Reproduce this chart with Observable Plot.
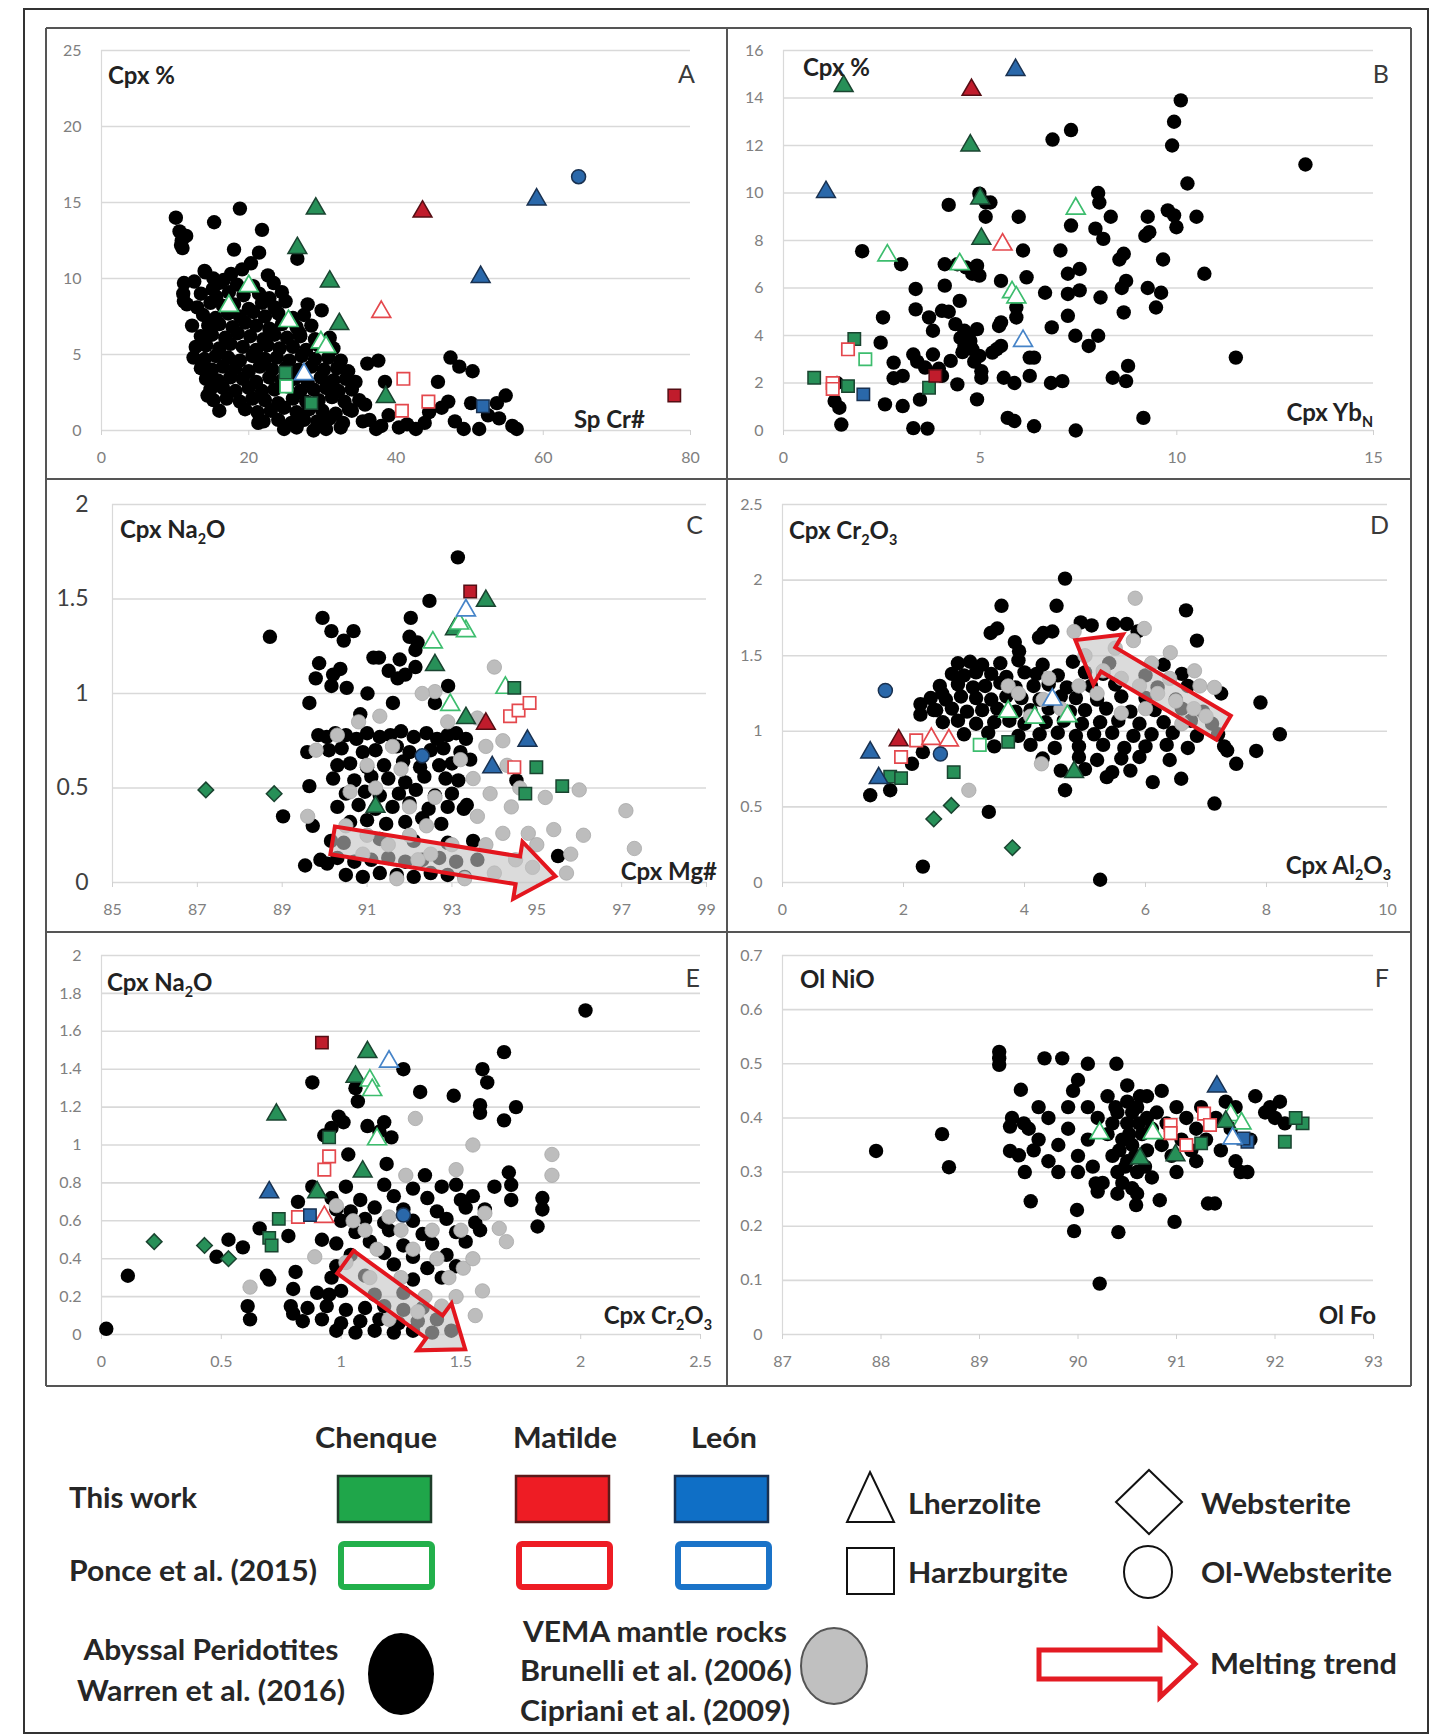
<!DOCTYPE html>
<html><head><meta charset="utf-8">
<script src="https://cdn.jsdelivr.net/npm/d3@7"></script>
<script src="https://cdn.jsdelivr.net/npm/@observablehq/plot@0.6"></script>
<style>
body{margin:0;background:#fff;}
#root{position:relative;width:1448px;height:1736px;background:#fff;overflow:hidden;}
.panel{position:absolute;}
#overlay{position:absolute;left:0;top:0;}
</style></head><body><div id="root"></div>
<script>
// ---------------- DATA ----------------
// samples: [x, y, locality, study, lithology]
// locality: Ch = Chenque, Ma = Matilde, Le = León ; study: T = This work, P = Ponce et al. (2015)
// lithology: L = Lherzolite, H = Harzburgite, W = Websterite, O = Ol-Websterite

// Panel A : Sp Cr# vs Cpx %
const A_abyssal = [[10.1,14.0],[10.6,13.1],[10.9,12.5],[11.0,12.0],[11.5,12.8],[10.8,12.2],[15.3,13.7],[18.8,14.6],[21.8,13.2],[18.0,11.9],[21.4,11.7],[20.3,11.0],[26.6,11.3],[29.9,7.9],[14.1,10.4],[15.2,10.0],[15.9,9.7],[11.2,9.7],[11.1,9.0],[11.2,8.5],[12.3,6.9],[14.4,2.3],[21.3,0.5],[26.9,6.4],[36.1,4.4],[37.6,4.6],[38.5,3.2],[37.3,0.1],[36.4,0.7],[47.4,4.8],[48.6,4.2],[50.4,3.9],[45.7,3.2],[51.3,0.1],[55.8,0.3],[56.4,0.1],[54.9,2.3],[53.7,1.8],[54.0,0.8],[47.1,1.9],[48.0,0.6],[49.2,0.1],[41.5,0.4],[42.7,0.1],[43.9,0.5],[34.0,1.3],[35.8,1.7],[44.5,1.2],[46.2,1.5],[50.2,1.8],[52.5,1.0],[40.4,0.2],[39.0,1.0],[38.0,0.3],
[14.0,10.5],[17.6,10.3],[19.1,10.6],[22.6,10.2],[12.6,9.8],[15.1,9.3],[16.6,9.9],[18.4,9.6],[20.6,9.5],[23.4,9.7],[13.5,9.0],[15.6,8.8],[17.3,9.1],[19.3,8.9],[21.4,9.0],[22.8,8.7],[24.5,9.1],[11.6,8.3],[13.0,8.1],[14.8,8.4],[16.5,8.2],[18.0,8.3],[20.0,8.0],[21.8,8.4],[23.5,8.1],[25.0,8.5],[28.0,8.3],[13.8,7.6],[15.5,7.4],[17.2,7.7],[18.8,7.5],[20.6,7.8],[22.2,7.5],[24.0,7.7],[26.0,7.4],[27.5,7.6],[14.5,6.9],[16.0,7.0],[17.8,6.8],[19.5,7.1],[21.0,6.9],[22.8,6.7],[24.5,7.0],[26.5,6.8],[28.5,6.9],[13.5,6.2],[15.0,6.3],[16.8,6.1],[18.5,6.4],[20.2,6.2],[22.0,6.0],[23.5,6.3],[25.2,6.1],[27.0,6.2],[29.0,6.0],[31.0,6.1],[12.8,5.5],[14.2,5.6],[16.0,5.4],[17.5,5.7],[19.2,5.5],[21.0,5.3],[22.5,5.6],[24.2,5.4],[26.0,5.5],[27.8,5.3],[29.5,5.6],[31.5,5.4],[12.5,4.8],[14.0,4.7],[15.5,4.9],[17.2,4.8],[18.8,4.6],[20.5,4.9],[22.2,4.7],[23.8,4.8],[25.5,4.6],[27.2,4.9],[29.0,4.7],[30.8,4.8],[32.5,4.6],[13.5,4.1],[15.0,4.0],[16.5,4.2],[18.2,4.1],[20.0,3.9],[21.5,4.2],[23.2,4.0],[25.0,4.1],[26.8,4.0],[28.5,4.2],[30.2,4.0],[32.0,4.1],[33.5,3.9],[14.2,3.4],[15.8,3.3],[17.5,3.5],[19.2,3.4],[21.0,3.2],[22.8,3.5],[24.5,3.3],[26.2,3.4],[28.0,3.2],[29.8,3.5],[31.5,3.3],[33.2,3.4],[34.5,3.2],[14.8,2.7],[16.5,2.8],[18.2,2.6],[20.0,2.8],[21.8,2.6],[23.5,2.7],[25.2,2.9],[27.0,2.6],[28.8,2.7],[30.5,2.8],[32.2,2.6],[34.0,2.7],[15.2,2.0],[17.0,2.1],[18.8,1.9],[20.5,2.1],[22.2,2.0],[24.0,1.8],[26.0,2.1],[27.8,1.9],[29.5,2.0],[31.3,2.2],[33.0,1.9],[35.0,2.0],[16.0,1.3],[19.5,1.4],[21.2,1.2],[23.0,1.3],[24.8,1.5],[26.5,1.2],[28.2,1.4],[30.0,1.3],[31.8,1.1],[33.6,1.4],[22.0,0.6],[24.0,0.7],[25.8,0.5],[27.5,0.7],[29.3,0.6],[31.0,0.8],[32.8,0.5],[35.5,0.6],[24.8,0.1],[26.5,0.2],[28.8,0.0],[30.5,0.1],[32.5,0.2]];
const A_samples = [[29.1,14.6,"Ch","T","L"],[26.6,12.0,"Ch","T","L"],[31.0,9.8,"Ch","T","L"],[32.3,7.0,"Ch","T","L"],[38.6,2.2,"Ch","T","L"],[25.0,3.8,"Ch","T","H"],[28.5,1.8,"Ch","T","H"],[20.0,9.5,"Ch","P","L"],[17.3,8.2,"Ch","P","L"],[25.4,7.2,"Ch","P","L"],[29.8,5.8,"Ch","P","L"],[30.5,5.5,"Ch","P","L"],[25.1,2.9,"Ch","P","H"],[43.6,14.4,"Ma","T","L"],[77.8,2.3,"Ma","T","H"],[38.0,7.8,"Ma","P","L"],[41.0,3.4,"Ma","P","H"],[44.4,1.9,"Ma","P","H"],[40.8,1.3,"Ma","P","H"],[59.1,15.2,"Le","T","L"],[51.5,10.1,"Le","T","L"],[64.8,16.7,"Le","T","O"],[51.8,1.6,"Le","T","H"],[27.5,3.7,"Le","P","L"]];

// Panel B : Cpx YbN vs Cpx %
const B_abyssal = [[2.0,7.55],[2.53,4.76],[2.47,3.7],[2.99,7.0],[3.36,5.96],[3.36,5.1],[2.8,2.86],[2.8,2.2],[3.03,2.3],[2.58,1.1],[3.03,1.03],[1.3,1.24],[1.42,0.96],[1.47,0.25],[1.36,2.0],[3.3,0.1],[3.66,0.08],[3.47,1.3],[3.6,2.65],[3.3,3.2],[3.7,4.76],[3.8,4.2],[4.03,5.04],[4.2,5.0],[4.1,6.1],[4.1,7.0],[4.2,9.5],[4.42,7.0],[4.48,5.46],[3.8,3.2],[4.03,2.3],[4.25,2.93],[4.42,1.94],[4.37,4.48],[4.6,4.2],[4.75,3.77],[4.6,3.56],[4.8,3.42],[4.92,4.27],[4.98,3.14],[5.03,2.5],[5.03,2.22],[4.64,6.87],[4.92,6.94],[4.98,6.52],[4.8,6.6],[4.98,9.97],[5.14,9.6],[5.26,9.6],[5.14,9.0],[4.92,1.31],[5.31,3.28],[5.42,3.42],[5.48,4.4],[5.53,4.55],[5.53,3.56],[5.6,2.22],[5.87,2.0],[5.7,0.53],[5.87,0.4],[6.37,0.18],[5.53,6.3],[5.92,5.18],[5.92,4.76],[5.98,9.0],[6.09,7.58],[6.18,6.45],[6.26,3.07],[6.37,3.07],[6.26,2.3],[6.65,5.8],[6.82,4.34],[6.8,2.0],[7.09,2.08],[6.84,12.25],[7.31,12.65],[7.04,7.58],[7.31,8.63],[7.23,6.6],[7.53,6.8],[7.23,5.75],[7.53,5.9],[7.23,4.83],[7.42,3.99],[7.43,0.0],[7.76,3.56],[8.0,3.99],[8.06,5.6],[8.0,10.0],[8.03,9.6],[8.32,9.0],[7.93,8.5],[8.13,8.07],[8.37,2.22],[8.65,4.97],[8.71,2.08],[8.76,2.72],[8.54,7.2],[8.65,7.44],[8.71,6.3],[8.6,6.0],[9.2,8.2],[9.3,8.35],[9.26,9.0],[9.26,6.0],[9.6,5.8],[9.65,7.2],[9.47,5.18],[9.15,0.53],[9.77,9.27],[9.93,9.06],[9.99,8.56],[9.88,12.0],[9.93,13.0],[10.1,13.9],[10.27,10.4],[10.5,9.0],[10.7,6.6],[11.5,3.07],[13.27,11.2],[4.5,3.9],[4.7,4.0],[4.55,3.3],[4.85,2.9],[3.95,2.6],[3.4,2.9]];
const B_samples = [[1.53,14.5,"Ch","T","L"],[4.75,12.0,"Ch","T","L"],[5.0,9.77,"Ch","T","L"],[5.03,8.07,"Ch","T","L"],[0.78,2.22,"Ch","T","H"],[1.8,3.85,"Ch","T","H"],[1.64,1.87,"Ch","T","H"],[3.7,1.8,"Ch","T","H"],[2.64,7.37,"Ch","P","L"],[7.43,9.34,"Ch","P","L"],[5.81,5.82,"Ch","P","L"],[5.92,5.6,"Ch","P","L"],[4.48,7.0,"Ch","P","L"],[2.08,3.0,"Ch","P","H"],[4.78,14.34,"Ma","T","L"],[3.86,2.3,"Ma","T","H"],[5.57,7.83,"Ma","P","L"],[1.64,3.42,"Ma","P","H"],[1.25,2.0,"Ma","P","H"],[1.25,1.75,"Ma","P","H"],[5.9,15.18,"Le","T","L"],[1.08,10.04,"Le","T","L"],[2.03,1.52,"Le","T","H"],[6.09,3.77,"Le","P","L"]];

// Panel C : Cpx Mg# vs Cpx Na2O
const C_abyssal = [[93.14,1.72],[92.47,1.49],[88.71,1.30],[92.03,1.40],[89.95,1.40],[90.16,1.33],[90.45,1.28],[90.68,1.33],[92.19,1.27],[92.14,1.23],[91.15,1.19],[91.28,1.19],[91.77,1.18],[91.51,1.12],[91.72,1.08],[89.87,1.16],[89.79,1.08],[90.37,1.13],[90.16,1.04],[90.52,1.03],[92.14,1.14],[91.01,1.0],[91.61,0.95],[92.91,1.04],[89.64,0.95],[90.84,0.89],[89.59,0.69],[89.64,0.51],[89.02,0.35],[89.72,0.30],[89.54,0.09],[90.06,0.10],[93.28,0.39],[93.43,0.65],[94.52,0.54],[95.5,0.14],[92.0,1.3],[91.9,1.1],[90.2,1.1],[92.6,0.95],
[89.85,0.78],[90.05,0.77],[90.25,0.79],[90.5,0.78],[90.75,0.76],[91.0,0.79],[91.3,0.77],[91.55,0.78],[91.8,0.80],[92.1,0.77],[92.4,0.79],[92.65,0.76],[92.9,0.78],[93.1,0.79],[93.33,0.76],
[90.1,0.70],[90.4,0.71],[90.9,0.69],[91.2,0.70],[91.7,0.72],[92.0,0.69],[92.5,0.70],[92.8,0.71],[93.2,0.69],
[90.3,0.62],[90.6,0.63],[91.0,0.61],[91.4,0.62],[91.85,0.64],[92.25,0.61],[92.7,0.62],[93.0,0.63],
[90.2,0.55],[90.7,0.54],[91.1,0.56],[91.5,0.55],[91.9,0.53],[92.35,0.56],[92.85,0.55],[93.15,0.54],
[90.5,0.47],[90.95,0.48],[91.3,0.46],[91.75,0.47],[92.15,0.49],[92.6,0.46],[93.0,0.47],
[90.3,0.40],[90.8,0.41],[91.2,0.39],[91.6,0.40],[92.0,0.42],[92.45,0.39],[92.9,0.40],[93.35,0.41],
[90.6,0.32],[91.0,0.33],[91.45,0.31],[91.9,0.32],[92.3,0.34],[92.75,0.31],
[90.15,0.22],[90.45,0.21],[91.3,0.23],[92.1,0.22],[92.9,0.21],[93.5,0.22],
[89.9,0.12],[90.3,0.13],[90.7,0.11],[91.1,0.12],[91.5,0.13],[91.9,0.11],[92.3,0.12],[92.7,0.13],[93.1,0.11],[93.6,0.12],
[90.5,0.04],[90.9,0.03],[91.3,0.05],[91.7,0.04],[92.1,0.03],[92.5,0.05],[92.9,0.04],[93.3,0.03]];
const C_vema = [[94.0,1.14],[92.6,1.01],[92.3,1.0],[93.6,0.87],[96.0,0.49],[97.1,0.38],[97.3,0.18],[95.8,0.15],[95.7,0.05],[95.4,0.28],[94.8,0.26],[94.2,0.26],[93.9,0.47],[93.8,0.72],[94.2,0.75],[94.6,0.5],[94.5,0.12],[95.0,0.2],[94.0,0.05],[93.6,0.35],[93.0,0.2],[92.5,0.15],[92.0,0.25],[91.5,0.2],[91.0,0.25],[90.5,0.3],[90.8,0.85],[91.3,0.88],[91.8,0.6],[91.0,0.62],[90.6,0.48],[92.0,0.4],[92.6,0.45],[93.2,0.65],[89.6,0.35],[89.8,0.7],[92.2,0.12],[93.3,0.02],[91.7,0.02],[95.2,0.45],[94.4,0.4],[96.1,0.25],[93.5,0.55],[92.9,0.85],[90.3,0.78],[94.3,0.62],[91.2,0.5],[92.4,0.3],[93.8,0.2],[94.9,0.08],[91.6,0.72],[90.9,0.15]];
const C_samples = [[93.8,1.49,"Ch","T","L"],[93.07,1.34,"Ch","T","L"],[92.6,1.15,"Ch","T","L"],[93.33,0.87,"Ch","T","L"],[91.2,0.4,"Ch","T","L"],[92.55,1.27,"Ch","P","L"],[93.33,1.33,"Ch","P","L"],[93.17,1.37,"Ch","P","L"],[92.96,0.94,"Ch","P","L"],[94.26,1.03,"Ch","P","L"],[94.47,1.03,"Ch","T","H"],[94.99,0.61,"Ch","T","H"],[94.73,0.47,"Ch","T","H"],[95.6,0.51,"Ch","T","H"],[87.2,0.49,"Ch","T","W"],[88.81,0.47,"Ch","T","W"],[93.43,1.54,"Ma","T","H"],[93.8,0.84,"Ma","T","L"],[94.37,0.88,"Ma","P","H"],[94.57,0.91,"Ma","P","H"],[94.83,0.95,"Ma","P","H"],[94.47,0.61,"Ma","P","H"],[94.78,0.75,"Le","T","L"],[93.95,0.61,"Le","T","L"],[92.3,0.67,"Le","T","O"],[93.33,1.44,"Le","P","L"]];
const C_trend = [90.2, 0.22, 95.45, 0.03];

// Panel D : Cpx Al2O3 vs Cpx Cr2O3
const D_abyssal = [[4.67,2.01],[3.62,1.83],[4.53,1.83],[3.44,1.65],[3.55,1.68],[3.84,1.59],[3.91,1.53],[4.24,1.62],[4.31,1.65],[4.46,1.66],[4.93,1.72],[5.11,1.7],[5.47,1.71],[5.69,1.71],[5.87,1.66],[6.67,1.8],[6.85,1.6],[7.9,1.19],[8.22,0.98],[7.83,0.87],[7.5,0.785],[7.35,0.873],[7.14,0.522],[6.59,0.686],[6.12,0.664],[5.36,0.697],[4.67,0.61],[5.25,0.018],[2.32,0.105],[3.41,0.467],[1.45,0.577],[1.78,0.61],[2.14,0.785],[2.28,1.18],[2.28,1.11],[2.32,0.862],[2.64,1.25],[2.54,1.14],[7.25,1.25],
[2.9,1.45],[3.1,1.46],[3.3,1.44],[3.6,1.45],[3.9,1.47],[4.3,1.44],[4.8,1.46],[5.4,1.45],[6.3,1.44],
[2.8,1.38],[3.0,1.37],[3.2,1.39],[3.45,1.38],[3.7,1.36],[4.0,1.39],[4.2,1.38],[4.55,1.37],[5.0,1.39],[5.3,1.38],[6.0,1.37],[6.6,1.38],
[2.6,1.30],[2.9,1.31],[3.15,1.29],[3.35,1.30],[3.6,1.32],[3.85,1.29],[4.15,1.30],[4.4,1.31],[4.7,1.29],[5.1,1.30],[5.5,1.31],[6.2,1.29],[6.7,1.30],
[2.45,1.22],[2.7,1.21],[2.95,1.23],[3.2,1.22],[3.45,1.21],[3.7,1.23],[3.95,1.22],[4.25,1.21],[4.6,1.23],[4.85,1.22],[5.2,1.21],[5.6,1.23],[6.0,1.22],[6.5,1.21],
[2.5,1.14],[2.8,1.15],[3.05,1.13],[3.3,1.14],[3.55,1.15],[3.85,1.13],[4.1,1.14],[4.4,1.15],[4.75,1.13],[5.0,1.14],[5.35,1.15],[5.75,1.13],[6.15,1.14],[6.6,1.15],[6.95,1.13],
[2.65,1.06],[2.9,1.07],[3.2,1.05],[3.5,1.06],[3.75,1.07],[4.0,1.05],[4.35,1.06],[4.65,1.07],[4.95,1.05],[5.25,1.06],[5.55,1.07],[5.9,1.05],[6.3,1.06],[6.75,1.07],[7.1,1.05],
[3.0,0.98],[3.4,0.99],[3.9,0.97],[4.25,0.98],[4.55,0.99],[4.85,0.97],[5.15,0.98],[5.45,0.99],[5.8,0.97],[6.1,0.98],[6.45,0.99],[6.85,0.97],[7.2,0.98],
[3.5,0.90],[4.1,0.91],[4.5,0.89],[4.9,0.90],[5.3,0.91],[5.65,0.89],[6.0,0.90],[6.35,0.91],[6.7,0.89],[7.3,0.90],
[4.3,0.82],[4.9,0.83],[5.2,0.81],[5.6,0.82],[5.9,0.83],[6.4,0.81],[4.6,0.74],[5.0,0.75],[5.45,0.73],[5.75,0.74]];
const D_vema = [[5.83,1.88],[4.82,1.66],[5.98,1.68],[6.41,1.52],[6.81,1.4],[7.14,1.29],[4.28,0.785],[3.08,0.61],[3.73,1.3],[4.31,1.21],[5.0,1.5],[5.3,1.4],[5.6,1.35],[5.9,1.3],[6.2,1.25],[6.5,1.2],[6.8,1.15],[7.0,1.1],[5.5,1.55],[5.8,1.6],[6.1,1.45],[6.4,1.35],[5.2,1.25],[4.9,1.3],[6.0,1.15],[5.6,1.12],[4.6,1.15],[6.6,1.05],[6.9,1.3],[4.4,1.35],[3.9,1.25],[4.1,1.1]];
const D_samples = [[4.82,0.73,"Ch","T","L"],[1.78,0.70,"Ch","T","H"],[1.96,0.69,"Ch","T","H"],[2.83,0.73,"Ch","T","H"],[3.73,0.93,"Ch","T","H"],[2.5,0.42,"Ch","T","W"],[2.79,0.51,"Ch","T","W"],[3.8,0.23,"Ch","T","W"],[3.26,0.91,"Ch","P","H"],[3.73,1.13,"Ch","P","L"],[4.17,1.09,"Ch","P","L"],[4.71,1.10,"Ch","P","L"],[1.92,0.94,"Ma","T","L"],[2.21,0.94,"Ma","P","H"],[2.46,0.95,"Ma","P","L"],[2.75,0.94,"Ma","P","L"],[1.96,0.83,"Ma","P","H"],[1.45,0.86,"Le","T","L"],[1.59,0.69,"Le","T","L"],[1.7,1.27,"Le","T","O"],[2.61,0.85,"Le","T","O"],[4.46,1.21,"Le","P","L"]];
const D_trend = [7.3, 1.02, 4.85, 1.6];

// Panel E : Cpx Cr2O3 vs Cpx Na2O
const E_abyssal = [[2.02,1.71],[1.68,1.49],[1.59,1.40],[1.61,1.33],[1.26,1.40],[1.33,1.28],[1.47,1.26],[1.58,1.21],[1.58,1.17],[1.73,1.2],[1.68,1.13],[0.88,1.33],[1.06,1.3],[1.07,1.23],[0.99,1.15],[1.01,1.12],[1.11,1.1],[1.18,1.12],[1.16,1.07],[1.21,1.04],[0.96,1.09],[0.93,1.05],[1.03,0.95],[1.19,0.9],[1.35,0.84],[1.7,0.855],[1.71,0.79],[1.64,0.78],[1.71,0.71],[1.84,0.72],[1.84,0.66],[1.82,0.57],[0.02,0.03],[0.11,0.31],[0.48,0.41],[0.53,0.5],[0.59,0.46],[0.66,0.56],[0.69,0.31],[0.70,0.29],[0.61,0.15],[0.62,0.08],[0.78,0.52],[0.81,0.33],[0.80,0.24],[0.79,0.15],[0.80,0.11],[0.82,0.70],[0.88,0.78],[0.92,0.50],[0.95,0.21],
[1.02,0.78],[1.18,0.79],[1.3,0.77],[1.42,0.78],[1.48,0.79],[0.96,0.72],[1.08,0.71],[1.22,0.73],[1.36,0.72],[1.5,0.71],[1.55,0.73],[0.98,0.66],[1.04,0.65],[1.14,0.67],[1.26,0.66],[1.4,0.65],[1.52,0.67],[1.6,0.66],[1.0,0.60],[1.1,0.61],[1.18,0.59],[1.3,0.60],[1.44,0.61],[1.56,0.59],[1.06,0.54],[1.2,0.55],[1.34,0.53],[1.48,0.54],[1.58,0.55],[0.98,0.48],[1.12,0.49],[1.26,0.47],[1.38,0.48],[1.52,0.49],[1.04,0.42],[1.18,0.43],[1.3,0.41],[1.44,0.42],[0.98,0.36],[1.22,0.37],[1.36,0.35],[1.48,0.36],[0.96,0.30],[1.1,0.31],[1.3,0.29],[1.42,0.30],[0.9,0.22],[1.0,0.23],[1.14,0.21],[1.26,0.22],[0.86,0.14],[0.94,0.15],[1.02,0.13],[1.1,0.14],[1.18,0.15],[1.26,0.13],[1.34,0.14],[0.84,0.07],[0.92,0.08],[1.0,0.06],[1.08,0.07],[1.16,0.08],[1.24,0.06],[1.32,0.07],[1.4,0.08],[0.98,0.02],[1.06,0.01],[1.14,0.02],[1.22,0.01],[1.3,0.02],[1.38,0.01],[1.46,0.02]];
const E_vema = [[1.31,1.14],[1.55,1.0],[1.88,0.95],[1.88,0.84],[1.48,0.87],[1.27,0.84],[1.6,0.64],[1.66,0.56],[1.69,0.49],[1.59,0.23],[1.56,0.1],[0.62,0.25],[0.89,0.41],[1.51,0.35],[1.1,0.55],[1.2,0.62],[1.3,0.45],[1.4,0.4],[1.45,0.3],[1.35,0.2],[1.25,0.3],[1.15,0.45],[1.05,0.6],[1.5,0.55],[1.38,0.55],[1.25,0.55],[1.02,0.38],[1.2,0.08],[1.32,0.12],[1.42,0.15],[1.48,0.2],[0.98,0.68],[1.55,0.4],[1.12,0.3]];
const E_samples = [[0.92,1.54,"Ma","T","H"],[1.11,1.49,"Ch","T","L"],[1.06,1.36,"Ch","T","L"],[0.73,1.16,"Ch","T","L"],[1.09,0.86,"Ch","T","L"],[0.9,0.75,"Ch","T","L"],[1.12,1.34,"Ch","P","L"],[1.13,1.29,"Ch","P","L"],[1.15,1.03,"Ch","P","L"],[0.95,1.04,"Ch","T","H"],[0.74,0.61,"Ch","T","H"],[0.7,0.51,"Ch","T","H"],[0.71,0.47,"Ch","T","H"],[0.22,0.49,"Ch","T","W"],[0.43,0.47,"Ch","T","W"],[0.53,0.4,"Ch","T","W"],[0.95,0.94,"Ma","P","H"],[0.93,0.87,"Ma","P","H"],[0.82,0.62,"Ma","P","H"],[0.93,0.62,"Ma","P","L"],[0.7,0.75,"Le","T","L"],[0.87,0.63,"Le","T","H"],[1.26,0.63,"Le","T","O"],[1.2,1.44,"Le","P","L"]];
const E_trend = [1.02, 0.38, 1.52, -0.08];

// Panel F : Ol Fo vs Ol NiO
const F_abyssal = [[87.95,0.339],[88.62,0.37],[88.69,0.309],[89.2,0.522],[89.2,0.51],[89.2,0.498],[89.66,0.51],[89.84,0.51],[90.1,0.5],[90.39,0.5],[89.42,0.452],[90.0,0.47],[90.5,0.46],[90.63,0.44],[89.33,0.4],[89.31,0.384],[89.31,0.339],[89.4,0.331],[89.46,0.3],[89.52,0.246],[89.96,0.191],[89.99,0.23],[90.22,0.094],[90.41,0.189],[90.2,0.264],[90.18,0.279],[90.98,0.208],[90.59,0.239],[90.83,0.248],[91.32,0.242],[91.39,0.242],
[89.5,0.38],[89.6,0.36],[89.7,0.40],[89.8,0.35],[89.9,0.38],[89.7,0.32],[89.8,0.30],[90.0,0.33],[90.1,0.36],[90.2,0.40],[90.3,0.37],[90.35,0.33],[90.4,0.30],[90.4,0.41],[90.45,0.36],[90.5,0.32],[90.5,0.39],[90.55,0.35],[90.6,0.42],[90.6,0.30],[90.65,0.37],[90.7,0.34],[90.7,0.40],[90.75,0.38],[90.8,0.41],[90.85,0.35],[90.9,0.39],[90.95,0.33],[91.0,0.42],[91.05,0.36],[91.1,0.40],[91.15,0.34],[91.2,0.38],[91.25,0.42],[91.3,0.36],[91.4,0.40],[91.45,0.34],[91.5,0.43],[91.55,0.38],[91.6,0.32],[91.65,0.30],[91.72,0.30],[91.75,0.36],[91.6,0.42],[91.8,0.44],[91.9,0.41],[92.0,0.40],[92.05,0.43],[92.1,0.39],[91.95,0.42],[90.25,0.28],[90.45,0.28],[90.55,0.27],[90.3,0.44],[90.5,0.43],[89.9,0.42],[89.6,0.42],[90.0,0.30],[90.15,0.31],[89.55,0.34],[89.45,0.39],[90.75,0.29],[91.0,0.30],[91.2,0.32],[90.85,0.45],[90.7,0.44],[89.95,0.45],[90.1,0.42],[90.6,0.26],[90.4,0.26],[90.35,0.39],[90.42,0.34],[90.48,0.31],[90.52,0.37],[90.58,0.33],[90.62,0.39],[90.68,0.31],[90.38,0.42],[90.55,0.41]];
const F_samples = [[90.22,0.372,"Ch","P","L"],[90.76,0.372,"Ch","P","L"],[91.55,0.405,"Ch","P","L"],[91.66,0.39,"Ch","P","L"],[90.99,0.331,"Ch","T","L"],[90.63,0.325,"Ch","T","L"],[91.5,0.393,"Ch","T","L"],[91.25,0.353,"Ch","T","H"],[92.1,0.356,"Ch","T","H"],[92.28,0.39,"Ch","T","H"],[92.21,0.40,"Ch","T","H"],[90.94,0.387,"Ma","P","H"],[91.1,0.35,"Ma","P","H"],[91.28,0.408,"Ma","P","H"],[91.34,0.387,"Ma","P","H"],[90.94,0.372,"Ma","P","H"],[91.41,0.458,"Le","T","L"],[91.72,0.356,"Le","T","H"],[91.68,0.362,"Le","T","H"],[91.57,0.362,"Le","P","L"]];

// Axis ticks
const A_xTicks=[0,20,40,60,80], A_yTicks=[0,5,10,15,20,25];
const B_xTicks=[0,5,10,15], B_yTicks=[0,2,4,6,8,10,12,14,16];
const C_xTicks=[85,87,89,91,93,95,97,99], C_yTicks=[0,0.5,1,1.5,2];
const D_xTicks=[0,2,4,6,8,10], D_yTicks=[0,0.5,1,1.5,2,2.5];
const E_xTicks=[0,0.5,1,1.5,2,2.5], E_yTicks=[0,0.2,0.4,0.6,0.8,1,1.2,1.4,1.6,1.8,2];
const F_xTicks=[87,88,89,90,91,92,93], F_yTicks=[0,0.1,0.2,0.3,0.4,0.5,0.6,0.7];

// ---------------- STYLES ----------------
const FONT = "Lato, 'Open Sans', sans-serif";
const locStyle = {
  Ch:{fill:"#279058", stroke:"#1a4430", open:"#3dbd6e"},
  Ma:{fill:"#c01c2c", stroke:"#550e14", open:"#e4484d"},
  Le:{fill:"#2a68aa", stroke:"#193150", open:"#4684c8"}
};
const lithSymbol = {L:"triangle", H:"square", W:d3.symbolDiamond2, O:"circle"};
const fmt = d => String(Math.round(d*100)/100);
const R_DOT = 7.2, R_SYM = 7;

const root = document.getElementById("root");

function addText(svg, x, y, parts, o={}) {
  const size=o.size||24;
  const t = d3.select(svg).append("text").attr("x",x).attr("y",y)
    .attr("text-anchor",o.anchor||"start").attr("font-size",size)
    .attr("font-weight",o.weight||700).attr("fill",o.fill||"#222").attr("font-family",FONT);
  let shift=0;
  for (const p of parts) {
    if (typeof p === "string") { t.append("tspan").attr("dy",-shift).text(p); shift=0; }
    else { t.append("tspan").attr("dy",6-shift).attr("font-size",size*0.6).text(p.sub); shift=6; }
  }
  return t;
}

function blockArrow(svg, sx, sy, a) {
  const [x1,y1,x2,y2]=a;
  const p1=[sx.apply(x1),sy.apply(y1)], p2=[sx.apply(x2),sy.apply(y2)];
  const dx=p2[0]-p1[0], dy=p2[1]-p1[1], L=Math.hypot(dx,dy), ux=dx/L, uy=dy/L, nx=-uy, ny=ux;
  const hw=14, hh=29, hl=38;
  const b=[p2[0]-ux*hl,p2[1]-uy*hl];
  const pts=[[p1[0]+nx*hw,p1[1]+ny*hw],[b[0]+nx*hw,b[1]+ny*hw],[b[0]+nx*hh,b[1]+ny*hh],p2,[b[0]-nx*hh,b[1]-ny*hh],[b[0]-nx*hw,b[1]-ny*hw],[p1[0]-nx*hw,p1[1]-ny*hw]];
  d3.select(svg).append("path").attr("d","M"+pts.map(p=>p.map(v=>v.toFixed(1)).join(",")).join("L")+"Z")
    .attr("fill","rgba(195,195,195,0.6)").attr("stroke","#e3161e").attr("stroke-width",4).attr("stroke-linejoin","miter");
}

function panel(c) {
  const marks = [
    Plot.gridY({ticks:c.yTicks, stroke:"#d9d9d9", strokeOpacity:1, strokeWidth:1.6}),
    Plot.ruleX([c.xDomain[0]], {stroke:"#d9d9d9", strokeWidth:1.2}),
    Plot.axisX({ticks:c.xTicks, tickFormat:fmt, tickSize:5, tickPadding:16, stroke:"#d0d0d0", fill:"#808080", fontSize:16, label:null}),
    Plot.axisY({ticks:c.yTicks, tickFormat:fmt, tickSize:0, tickPadding:c.yPad||20, fill:c.yColor||"#808080", fontSize:c.yFont||16, label:null}),
    Plot.dot(c.abyssal, {x:d=>d[0], y:d=>d[1], r:R_DOT, fill:"#000"})
  ];
  if (c.vema) marks.push(Plot.dot(c.vema, {x:d=>d[0], y:d=>d[1], r:R_DOT, fill:"#bdbdbd", stroke:"#a8a8a8", strokeWidth:0.8}));
  for (const [key, rows] of d3.groups(c.samples, d=>d[2]+d[3]+d[4])) {
    const [loc, study, lith] = [rows[0][2], rows[0][3], rows[0][4]];
    const st = locStyle[loc];
    const filled = study === "T";
    marks.push(Plot.dot(rows, {x:d=>d[0], y:d=>d[1], r:R_SYM, symbol:lithSymbol[lith],
      fill: filled ? st.fill : "#ffffff", stroke: filled ? st.stroke : st.open, strokeWidth: filled ? 1.5 : 1.7}));
  }
  const plot = Plot.plot({
    width:c.width, height:c.height,
    marginLeft:c.ml, marginRight:c.mr, marginTop:c.mt, marginBottom:c.mb,
    x:{domain:c.xDomain, label:null}, y:{domain:c.yDomain, label:null},
    style:{fontFamily:FONT, background:"white", overflow:"visible"},
    marks
  });
  if (c.trend) blockArrow(plot, plot.scale("x"), plot.scale("y"), c.trend);
  addText(plot, c.t1[0], c.t1[1], c.title);
  addText(plot, c.t2[0], c.t2[1], c.xTitle, {anchor:"end"});
  addText(plot, c.t3[0], c.t3[1], [c.letter], {anchor:"end", weight:400, size:25, fill:"#3a3a3a"});
  const div = document.createElement("div");
  div.className="panel"; div.style.left=c.left+"px"; div.style.top=c.top+"px";
  div.appendChild(plot); root.appendChild(div);
}

panel({left:46, top:28, width:681, height:451, ml:55, mr:37, mt:22, mb:49,
  xDomain:[0,80], yDomain:[0,25], xTicks:A_xTicks, yTicks:A_yTicks,
  abyssal:A_abyssal, samples:A_samples,
  title:["Cpx %"], t1:[62,56], xTitle:["Sp Cr#"], t2:[599,400], letter:"A", t3:[649,55]});
panel({left:727, top:28, width:684, height:451, ml:56, mr:38, mt:22, mb:49,
  xDomain:[0,15], yDomain:[0,16], xTicks:B_xTicks, yTicks:B_yTicks,
  abyssal:B_abyssal, samples:B_samples,
  title:["Cpx %"], t1:[76,48], xTitle:["Cpx Yb",{sub:"N"}], t2:[646,393], letter:"B", t3:[662,55]});
panel({left:46, top:479, width:681, height:453, ml:66, mr:21, mt:25, mb:50,
  xDomain:[85,99], yDomain:[0,2], xTicks:C_xTicks, yTicks:C_yTicks, yFont:23, yColor:"#404040", yPad:24,
  abyssal:C_abyssal, vema:C_vema, samples:C_samples, trend:C_trend,
  title:["Cpx Na",{sub:"2"},"O"], t1:[74,59], xTitle:["Cpx Mg#"], t2:[671,401], letter:"C", t3:[657,55]});
panel({left:727, top:479, width:684, height:453, ml:55, mr:24, mt:25, mb:50,
  xDomain:[0,10], yDomain:[0,2.5], xTicks:D_xTicks, yTicks:D_yTicks,
  abyssal:D_abyssal, vema:D_vema, samples:D_samples, trend:D_trend,
  title:["Cpx Cr",{sub:"2"},"O",{sub:"3"}], t1:[62,60], xTitle:["Cpx Al",{sub:"2"},"O",{sub:"3"}], t2:[664,395], letter:"D", t3:[662,55]});
panel({left:46, top:932, width:681, height:454, ml:55, mr:27, mt:23, mb:52,
  xDomain:[0,2.5], yDomain:[0,2], xTicks:E_xTicks, yTicks:E_yTicks,
  abyssal:E_abyssal, vema:E_vema, samples:E_samples, trend:E_trend,
  title:["Cpx Na",{sub:"2"},"O"], t1:[61,59], xTitle:["Cpx Cr",{sub:"2"},"O",{sub:"3"}], t2:[666,392], letter:"E", t3:[654,55]});
panel({left:727, top:932, width:684, height:454, ml:55, mr:38, mt:23, mb:52,
  xDomain:[87,93], yDomain:[0,0.7], xTicks:F_xTicks, yTicks:F_yTicks,
  abyssal:F_abyssal, samples:F_samples,
  title:["Ol NiO"], t1:[73,56], xTitle:["Ol Fo"], t2:[649,392], letter:"F", t3:[662,55]});

// ---------------- FRAMES + LEGEND ----------------
const ov = d3.select(root).append("svg").attr("id","overlay").attr("width",1448).attr("height",1736);
ov.append("rect").attr("x",24).attr("y",9).attr("width",1404).attr("height",1724).attr("fill","none").attr("stroke","#333").attr("stroke-width",2);
const gl = ov.append("g").attr("stroke","#555").attr("stroke-width",2);
for (const x of [46,727,1411]) gl.append("line").attr("x1",x).attr("x2",x).attr("y1",28).attr("y2",1386);
for (const y of [28,479,932,1386]) gl.append("line").attr("x1",46).attr("x2",1411).attr("y1",y).attr("y2",y);

function ltext(x, y, s, w, anchor="start") {
  ov.append("text").attr("x",x).attr("y",y).attr("text-anchor",anchor).attr("font-family",FONT)
    .attr("font-weight",700).attr("font-size",28).attr("fill","#262626")
    .attr("textLength",w).attr("lengthAdjust","spacingAndGlyphs").text(s);
}
ltext(376,1448,"Chenque",122,"middle");
ltext(565,1448,"Matilde",104,"middle");
ltext(724,1448,"León",66,"middle");
ltext(69,1508,"This work",128);
ltext(69,1581,"Ponce et al. (2015)",248);
const boxes=[[338,"#1fa64a","#1e3d2a","#22b04b"],[516,"#ee1c24","#5a1a1a","#ee1c24"],[675,"#0f6fc6","#1a3050","#1a73c8"]];
for (const [x,f,s,o] of boxes) {
  ov.append("rect").attr("x",x).attr("y",1476).attr("width",93).attr("height",46).attr("fill",f).attr("stroke",s).attr("stroke-width",2.5);
  ov.append("rect").attr("x",x+3).attr("y",1544).attr("width",91).attr("height",43).attr("fill","#fff").attr("stroke",o).attr("stroke-width",6).attr("rx",3);
}
ov.append("path").attr("d","M870,1472L894,1522L847,1522Z").attr("fill","#fff").attr("stroke","#111").attr("stroke-width",2);
ov.append("rect").attr("x",847).attr("y",1548).attr("width",47).attr("height",46).attr("fill","#fff").attr("stroke","#111").attr("stroke-width",2);
ov.append("path").attr("d","M1149,1470L1182,1502L1149,1534L1116,1502Z").attr("fill","#fff").attr("stroke","#111").attr("stroke-width",2);
ov.append("ellipse").attr("cx",1148).attr("cy",1572).attr("rx",24).attr("ry",26).attr("fill","#fff").attr("stroke","#111").attr("stroke-width",2);
ltext(908,1514,"Lherzolite",133);
ltext(908,1583,"Harzburgite",160);
ltext(1201,1514,"Websterite",150);
ltext(1201,1583,"Ol-Websterite",191);
ltext(211,1660,"Abyssal Peridotites",255,"middle");
ltext(211,1701,"Warren et al. (2016)",268,"middle");
ov.append("ellipse").attr("cx",401).attr("cy",1674).attr("rx",33).attr("ry",41).attr("fill","#000");
ltext(523,1642,"VEMA mantle rocks",264);
ltext(520,1681,"Brunelli et al. (2006)",272);
ltext(520,1721,"Cipriani et al. (2009)",270);
ov.append("ellipse").attr("cx",834).attr("cy",1666).attr("rx",33).attr("ry",38).attr("fill","#c0c0c0").attr("stroke","#555").attr("stroke-width",2);
ov.append("path").attr("d","M1039,1650L1160,1650L1160,1631L1195,1664L1160,1697L1160,1679L1039,1679Z").attr("fill","#fff").attr("stroke","#e31b23").attr("stroke-width",5);
ltext(1210,1674,"Melting trend",187);
</script></body></html>
